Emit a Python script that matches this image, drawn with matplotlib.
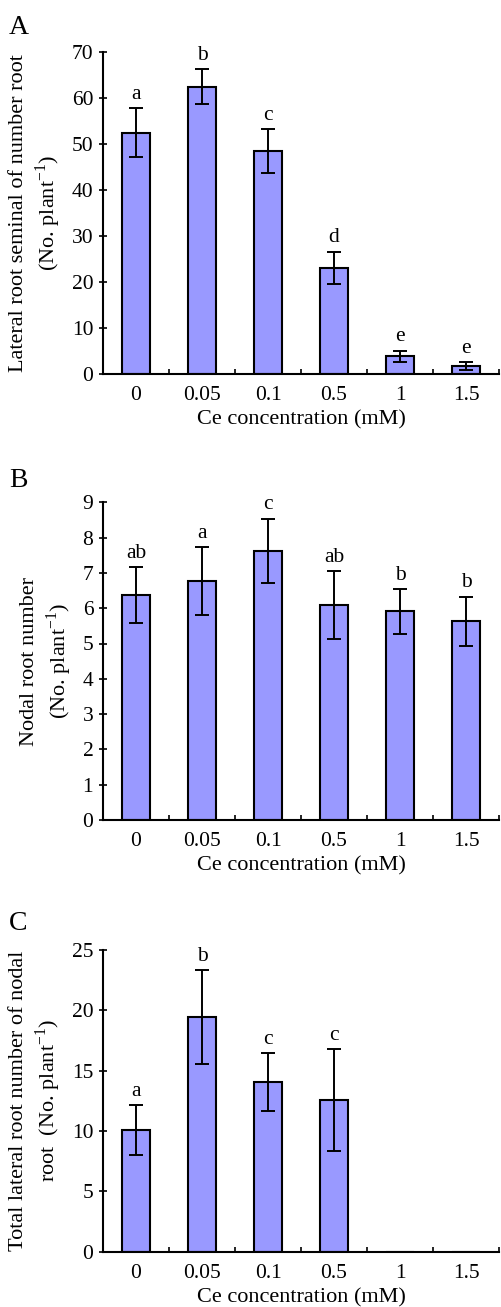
import matplotlib
matplotlib.use("Agg")
import matplotlib.pyplot as plt
import numpy as np

plt.rcParams['font.family'] = ['Liberation Serif', 'DejaVu Serif']
plt.rcParams['mathtext.fontset'] = 'custom'
plt.rcParams['mathtext.rm'] = 'Liberation Serif'

categories = ["0", "0.05", "0.1", "0.5", "1", "1.5"]

a_values = [52.5, 62.5, 48.5, 23.1, 3.9, 1.7]
a_errors = [5.3, 3.8, 4.8, 3.5, 1.2, 0.8]
a_letters = ["a", "b", "c", "d", "e", "e"]

b_values = [6.37, 6.77, 7.62, 6.09, 5.91, 5.63]
b_errors = [0.80, 0.97, 0.92, 0.96, 0.63, 0.70]
b_letters = ["ab", "a", "c", "ab", "b", "b"]

c_values = [10.08, 19.47, 14.08, 12.57, 0, 0]
c_errors = [2.1, 3.9, 2.4, 4.2, 0, 0]
c_letters = ["a", "b", "c", "c", "", ""]

panels = [
    ("A", a_values, a_errors, a_letters, 70, 10,
     "Lateral root seminal of number root\n(No. plant$^{-1}$)"),
    ("B", b_values, b_errors, b_letters, 9, 1,
     "Nodal root number\n(No. plant$^{-1}$)"),
    ("C", c_values, c_errors, c_letters, 25, 5,
     "Total lateral root number of nodal\nroot  (No. plant$^{-1}$)"),
]

W, H = 501, 1307
fig = plt.figure(figsize=(W / 100, H / 100), dpi=100)

# (top_px, bottom_px) for each axes
boxes = [(52, 374), (502.3, 820), (950, 1251.7)]
letter_y = [28, 480, 924]
left_px, right_px = 103, 499
FS = 15.5
LFS = 16

bar_color = "#9999FF"
for (letter, vals, errs, sig, ymax, ystep, ylabel), (tp, bp), ly in zip(panels, boxes, letter_y):
    ax = fig.add_axes([left_px / W, 1 - bp / H, (right_px - left_px) / W, (bp - tp) / H])
    x = np.arange(len(categories))
    ax.bar(x, vals, width=0.43, color=bar_color, edgecolor="black", linewidth=1.5, zorder=2)
    e = np.array(errs)
    mask = e > 0
    ax.errorbar(x[mask], np.array(vals)[mask], yerr=e[mask], fmt="none", ecolor="black",
                elinewidth=1.4, capsize=5, capthick=1.4, zorder=3)
    for xi, v, er, s in zip(x, vals, errs, sig):
        if s:
            ax.annotate(s, (xi, v + er), xytext=(0, 3), textcoords="offset points",
                        ha="center", va="bottom", fontsize=FS)
    ax.set_xlim(-0.5, len(categories) - 0.5)
    ax.set_ylim(0, ymax)
    ax.set_yticks(np.arange(0, ymax + ystep / 2, ystep))
    ax.set_xticks(np.arange(-0.5, len(categories) - 0.4, 1.0))
    ax.set_xticklabels([])
    ax.set_xticks(x, minor=True)
    ax.set_xticklabels(categories, minor=True)
    ax.tick_params(axis="x", which="major", direction="in", length=3.5, width=1.2)
    ax.tick_params(axis="x", which="minor", length=0, pad=8.5, labelsize=FS)
    ax.tick_params(axis="y", direction="inout", length=6, width=1.2, labelsize=FS, pad=4)
    for s in ["top", "right"]:
        ax.spines[s].set_visible(False)
    for s in ["left", "bottom"]:
        ax.spines[s].set_linewidth(1.5)
    ax.set_xlabel("Ce concentration (mM)", fontsize=LFS, labelpad=4)
    ax.set_ylabel(ylabel, fontsize=LFS, linespacing=1.25, labelpad=6)
    fig.text(9 / W, 1 - ly / H, letter, fontsize=20, ha="left", va="center")

fig.savefig("out.png", dpi=100)
